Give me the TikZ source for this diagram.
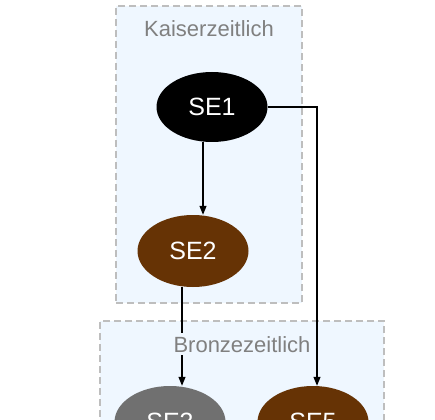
\documentclass[tikz,border=0pt]{standalone}
\usepackage{fontspec}
\setmainfont{Liberation Sans}
\usetikzlibrary{shapes.geometric,arrows.meta}
\definecolor{clusterfill}{RGB}{239,247,255}
\definecolor{clusterline}{RGB}{190,190,190}
\definecolor{brown}{RGB}{102,51,5}
\definecolor{stonegrey}{RGB}{112,112,112}
\definecolor{labelgrey}{RGB}{128,128,128}

\begin{document}
\begin{tikzpicture}[x=1pt,y=-1pt,% pixel grid, y going down
			every node/.style={
				inner sep=0pt		% sizes are given explicitly
			},
			cluster/.style={rectangle,draw=clusterline,fill=clusterfill,dashed,dash pattern=on 7pt off 4pt,line width=1.2pt},
			clusterlabel/.style={anchor=base,fill=clusterfill,text=labelgrey,font=\fontsize{22}{26}\selectfont,inner sep=3pt},
			unit/.style={ellipse,minimum width=111pt,minimum height=72pt,text=white,font=\fontsize{25}{30}\selectfont},
			every edge/.style={draw,line width=1.2pt,-{Triangle[length=9pt,width=7pt]}}
		]
		\useasboundingbox (0,0) rectangle (435,419);
		% clusters
		\node[cluster,minimum width=186pt,minimum height=297pt](K) at (209,154.5){};
		\node[cluster,minimum width=284pt,minimum height=179pt](B) at (242,410.5){};
		% units
		\node[unit,fill=black,minimum height=70pt](SE1) at (212,107){SE1};
		\node[unit,fill=brown](SE2) at (193,251){SE2};
		\node[unit,fill=stonegrey](SE3) at (170,422){SE3};
		\node[unit,fill=brown](SE5) at (313,422){SE5};
		% ports of the edges
		\coordinate (p12) at (203,0);
		\coordinate (p23) at (182,0);
		\coordinate (p15) at (317,0);
		\path
		(SE1.south -| p12)edge [] (SE2.north -| p12)
		(SE2.south -| p23)edge [] (SE3.north -| p23)
		(SE1.east)edge [to path={-| (\tikztotarget)}] (SE5.north -| p15)
		;
		% cluster titles on top of the edges
		\node[clusterlabel](Klabel) at (209,37){Kaiserzeitlich};
		\node[clusterlabel](Blabel) at (242,352){Bronzezeitlich};
	\end{tikzpicture}
\end{document}
